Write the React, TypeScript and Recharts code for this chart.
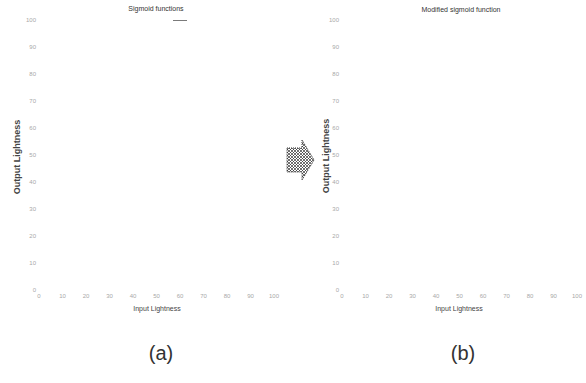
import { LineChart, Line, XAxis, YAxis } from "recharts";

// ===== data =====
const AXIS_TICKS = [0, 10, 20, 30, 40, 50, 60, 70, 80, 90, 100];

// the only fragment of the sigmoid curves still visible in the scan (top plateau)
const sigmoidTopX = [57, 63];
const sigmoidTopY = [100, 100];

const sigmoidPoints = sigmoidTopX.map((x, i) => ({ x, y: sigmoidTopY[i] }));
// panel (b): the curve did not survive the scan, only the input-lightness grid
const modifiedPoints = AXIS_TICKS.map((x) => ({ x, y: null as number | null }));

// ===== styles =====
const FONT = "'Liberation Sans', Arial, sans-serif";
const TICK = { fill: "#a8a8a8", fontSize: 6, fontFamily: FONT };

const abs = (style: React.CSSProperties): React.CSSProperties => ({
  position: "absolute",
  fontFamily: FONT,
  whiteSpace: "nowrap",
  ...style,
});

function Panel({
  left,
  yAxisWidth,
  right,
  data,
}: {
  left: number;
  yAxisWidth: number;
  right: number;
  data: { x: number; y: number | null }[];
}) {
  return (
    <div style={{ position: "absolute", left, top: 0 }}>
      <LineChart
        width={290}
        height={320}
        data={data}
        margin={{ top: 20, right, left: 0, bottom: 0 }}
        style={{ overflow: "visible" }}
      >
        <XAxis
          dataKey="x"
          type="number"
          domain={[0, 100]}
          ticks={AXIS_TICKS}
          axisLine={false}
          tickLine={false}
          tickSize={0}
          tickMargin={4}
          height={30}
          interval={0}
          tick={TICK}
        />
        <YAxis
          dataKey="y"
          type="number"
          domain={[0, 100]}
          ticks={AXIS_TICKS}
          allowDataOverflow
          axisLine={false}
          tickLine={false}
          tickSize={0}
          tickMargin={3}
          width={yAxisWidth}
          interval={0}
          tick={TICK}
        />
        <Line
          dataKey="y"
          stroke="#222"
          strokeWidth={1.2}
          dot={false}
          isAnimationActive={false}
        />
      </LineChart>
    </div>
  );
}

export default function App() {
  return (
    <div
      style={{
        position: "absolute",
        left: 0,
        top: 0,
        width: 586,
        height: 383,
        background: "#fff",
        overflow: "hidden",
      }}
    >
      <Panel left={0} yAxisWidth={39} right={16} data={sigmoidPoints} />
      <Panel left={296} yAxisWidth={46} right={9} data={modifiedPoints} />

      {/* titles */}
      <div style={abs({ left: 156, top: 5, transform: "translateX(-50%)", fontSize: 7, color: "#333" })}>
        Sigmoid functions
      </div>
      <div style={abs({ left: 461, top: 6, transform: "translateX(-50%)", fontSize: 7, color: "#333" })}>
        Modified sigmoid function
      </div>

      {/* y-axis labels */}
      <div
        style={abs({
          left: 17,
          top: 157,
          transform: "translate(-50%, -50%) rotate(-90deg)",
          fontSize: 9,
          fontWeight: "bold",
          color: "#444",
        })}
      >
        Output Lightness
      </div>
      <div
        style={abs({
          left: 326,
          top: 156,
          transform: "translate(-50%, -50%) rotate(-90deg)",
          fontSize: 9,
          fontWeight: "bold",
          color: "#444",
        })}
      >
        Output Lightness
      </div>

      {/* x-axis labels */}
      <div style={abs({ left: 157, top: 305, transform: "translateX(-50%)", fontSize: 7, color: "#444" })}>
        Input Lightness
      </div>
      <div style={abs({ left: 459, top: 305, transform: "translateX(-50%)", fontSize: 7, color: "#444" })}>
        Input Lightness
      </div>

      {/* captions */}
      <div style={abs({ left: 161, top: 342, transform: "translateX(-50%)", fontSize: 20, color: "#333" })}>
        (a)
      </div>
      <div style={abs({ left: 463, top: 342, transform: "translateX(-50%)", fontSize: 20, color: "#333" })}>
        (b)
      </div>

      {/* hatched arrow between the panels */}
      <svg width={30} height={42} style={{ position: "absolute", left: 286, top: 139 }}>
        <defs>
          <pattern id="hatch" width={3} height={3} patternUnits="userSpaceOnUse">
            <path d="M0 0L3 3M3 0L0 3" stroke="#333" strokeWidth={0.7} />
          </pattern>
        </defs>
        <polygon
          points="1,9 16,9 16,1 28,21 16,41 16,33 1,33"
          fill="url(#hatch)"
          stroke="#333"
          strokeWidth={1}
          strokeDasharray="1 1"
        />
      </svg>
    </div>
  );
}
